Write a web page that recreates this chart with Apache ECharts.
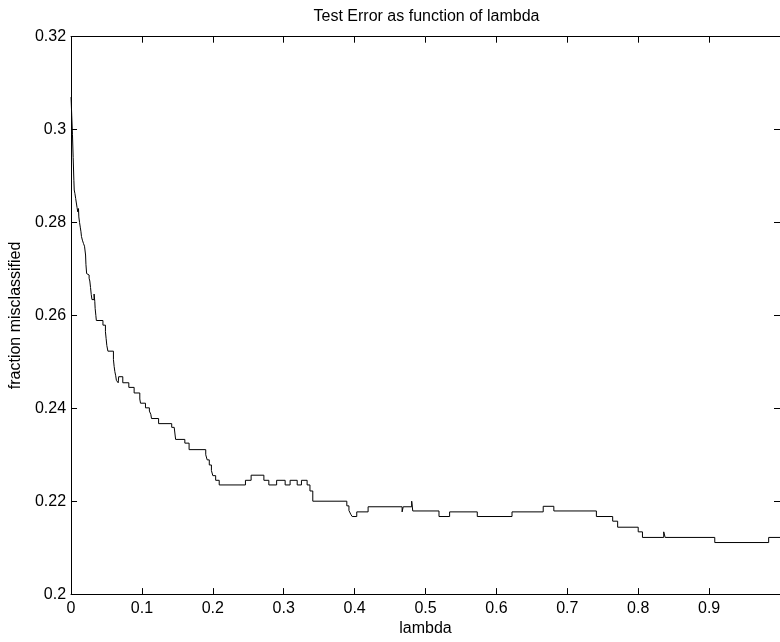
<!DOCTYPE html>
<html>
<head>
<meta charset="utf-8">
<script src="https://cdn.jsdelivr.net/npm/echarts@6/dist/echarts.min.js"></script>
<style>
html,body{margin:0;padding:0;background:#fff;}
#chart{width:780px;height:642px;}
</style>
</head>
<body>
<div id="chart"></div>
<script>
// Step function: each lambda value marks where a new error level starts
const lambdaSteps = [0,0.001,0.002,0.003,0.004,0.0045,0.0055,0.0065,0.0075,0.0085,0.0095,0.0105,0.011,0.012,0.013,0.014,0.0147,0.016,0.0175,0.019,0.0205,0.021,0.022,0.023,0.0255,0.0265,0.0275,0.0285,0.0295,0.0325,0.0335,0.034,0.035,0.0357,0.045,0.0485,0.0495,0.0505,0.052,0.0598,0.0608,0.0618,0.063,0.064,0.0665,0.0672,0.073,0.0815,0.089,0.097,0.098,0.105,0.1105,0.1125,0.1135,0.1235,0.142,0.1455,0.1475,0.1605,0.1665,0.190,0.192,0.195,0.198,0.200,0.204,0.209,0.246,0.254,0.272,0.279,0.290,0.302,0.309,0.319,0.325,0.333,0.337,0.341,0.389,0.392,0.3945,0.3965,0.403,0.419,0.467,0.4685,0.4805,0.482,0.519,0.534,0.573,0.622,0.666,0.681,0.741,0.764,0.771,0.800,0.806,0.836,0.838,0.908,0.984,1.0];
const errorLevels = [0.307,0.303,0.299,0.294,0.289,0.287,0.2862,0.2852,0.2842,0.2832,0.2823,0.2830,0.2812,0.2800,0.2790,0.2780,0.2770,0.2762,0.2755,0.2749,0.2730,0.2710,0.2690,0.2687,0.2680,0.2674,0.2660,0.2645,0.2634,0.2646,0.2630,0.2615,0.2600,0.2589,0.2579,0.2565,0.2550,0.2535,0.2523,0.2505,0.2490,0.2479,0.2470,0.2460,0.2455,0.2468,0.2455,0.2445,0.2433,0.2420,0.2411,0.2401,0.2394,0.2387,0.2378,0.2367,0.2359,0.2355,0.2333,0.2325,0.2311,0.2300,0.2289,0.2278,0.2266,0.2255,0.2245,0.2235,0.2245,0.2256,0.2245,0.2235,0.2245,0.2235,0.2245,0.2235,0.2245,0.2235,0.2222,0.2200,0.2190,0.2180,0.2172,0.2167,0.2177,0.2188,0.2177,0.2188,0.2200,0.2179,0.2167,0.2177,0.2167,0.2177,0.2189,0.2179,0.2167,0.2157,0.2144,0.2134,0.2122,0.2134,0.2122,0.2111,0.2122,0.2122];
const xTicks = [0,0.1,0.2,0.3,0.4,0.5,0.6,0.7,0.8,0.9,1];
const yTicks = [0.2,0.22,0.24,0.26,0.28,0.3,0.32];
const titleText = 'Test Error as function of lambda';
const xName = 'lambda';
const yName = 'fraction misclassified';

const FONT = 'Liberation Sans, Arial, Helvetica, sans-serif';
const FS = 16;
const seriesData = lambdaSteps.map((l, i) => [l, errorLevels[i]]);

const chart = echarts.init(document.getElementById('chart'), null, {renderer: 'canvas'});
const axisLineStyle = {color: '#000', width: 1};
const fmt = v => String(+v.toFixed(2));

chart.setOption({
  animation: false,
  backgroundColor: '#fff',
  title: {
    text: titleText,
    left: 426.5,
    textAlign: 'center',
    top: 9,
    padding: 0,
    textStyle: {fontFamily: FONT, fontSize: FS, fontWeight: 'normal', color: '#000'}
  },
  grid: {left: 69.5, right: -3.5, top: 36.7, bottom: 42, containLabel: false},
  xAxis: [{
    type: 'value', position: 'bottom',
    min: xTicks[0], max: xTicks[xTicks.length - 1], interval: 0.1,
    name: xName, nameLocation: 'middle', nameGap: 24,
    nameTextStyle: {fontFamily: FONT, fontSize: FS, color: '#000'},
    axisLine: {show: true, lineStyle: axisLineStyle},
    axisTick: {show: true, inside: true, length: 6, lineStyle: axisLineStyle},
    axisLabel: {fontFamily: FONT, fontSize: FS, color: '#000', margin: 6, showMaxLabel: false, formatter: fmt},
    splitLine: {show: false}
  }, {
    type: 'value', position: 'top',
    min: xTicks[0], max: xTicks[xTicks.length - 1], interval: 0.1,
    axisLine: {show: true, onZero: false, lineStyle: axisLineStyle},
    axisTick: {show: true, inside: true, length: 6, lineStyle: axisLineStyle},
    axisLabel: {show: false},
    splitLine: {show: false}
  }],
  yAxis: [{
    type: 'value', position: 'left',
    min: yTicks[0], max: yTicks[yTicks.length - 1], interval: 0.02,
    name: yName, nameLocation: 'middle', nameGap: 42,
    nameTextStyle: {fontFamily: FONT, fontSize: FS, color: '#000'},
    axisLine: {show: true, lineStyle: axisLineStyle},
    axisTick: {show: true, inside: true, length: 6, lineStyle: axisLineStyle},
    axisLabel: {fontFamily: FONT, fontSize: FS, color: '#000', margin: 5, formatter: fmt},
    splitLine: {show: false}
  }, {
    type: 'value', position: 'right',
    min: yTicks[0], max: yTicks[yTicks.length - 1], interval: 0.02,
    axisLine: {show: true, onZero: false, lineStyle: axisLineStyle},
    axisTick: {show: true, inside: true, length: 6, lineStyle: axisLineStyle},
    axisLabel: {show: false},
    splitLine: {show: false}
  }],
  series: [{
    type: 'line',
    xAxisIndex: 0, yAxisIndex: 0,
    data: seriesData,
    step: 'end',
    showSymbol: false,
    symbol: 'none',
    lineStyle: {color: '#000', width: 1},
    clip: true
  }]
});
</script>
</body>
</html>
